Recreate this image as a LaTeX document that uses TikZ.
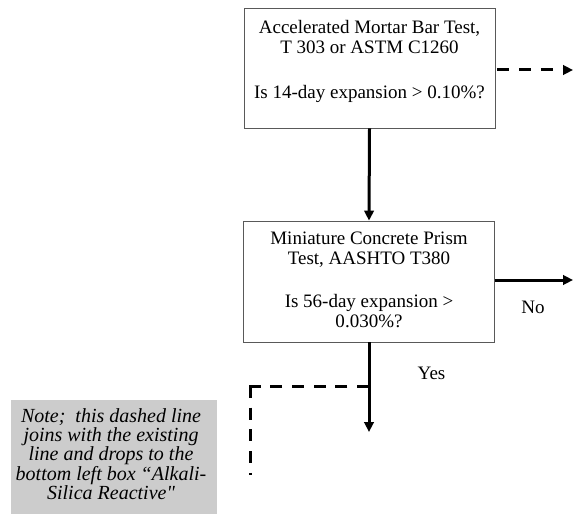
\documentclass[tikz,border=0pt]{standalone}
\usepackage{fontspec}
\setmainfont{Liberation Serif}
\newfontfamily\rawserif[Ligatures=TeXOff]{Liberation Serif}
\usetikzlibrary{arrows.meta}
\begin{document}
\begin{tikzpicture}[x=1bp,y=-1bp,
  box/.style={draw=black!65, line width=0.8bp, minimum width=251bp, minimum height=120bp, inner sep=0pt},
  boxtext/.style={align=center, font=\fontsize{19bp}{19.5bp}\selectfont, inner sep=0pt, anchor=north},
  lbl/.style={font=\fontsize{19bp}{19.5bp}\selectfont, inner sep=0pt, anchor=base},
  conn/.style={line width=3bp, -{Triangle[length=10bp,width=9.5bp]}},
  dashconn/.style={line width=3bp, dash pattern=on 12bp off 9.7bp},
  notebox/.style={fill=black!20, draw=none},
  notetext/.style={align=center, font=\fontsize{20bp}{19.2bp}\selectfont\itshape, inner sep=0pt, anchor=north}]
\useasboundingbox (0,0) rectangle (573,514);
% boxes
\node[box] (b1) at (369.5,68) {};
\node[boxtext] (b1t) at (369.5,20.2) {Accelerated Mortar Bar Test,\\T 303 or ASTM C1260\\[25.5bp]Is 14-day expansion > 0.10\%?};
\node[box, minimum height=121bp] (b2) at (369,281.5) {};
\node[boxtext] (b2t) at (369,231.9) {Miniature Concrete Prism\\Test, AASHTO T380\\[24bp]Is 56-day expansion >\\0.030\%?};
% coordinates
\coordinate (e1) at (573,70);
\coordinate (e2) at (573,280);
\coordinate (y1) at (369,432);
\coordinate (junc) at (369,386);
\coordinate (corner) at (250,386);
\coordinate (dend) at (250,475);
% connectors
\draw[conn] (b1.south) -- (b2.north);
\draw[conn, dash pattern=on 12bp off 9.7bp, dash phase=19.7bp] (b1.east |- e1) -- (e1);
\draw[conn] (b2.east |- e2) -- (e2);
\draw[conn] (b2.south) -- (y1);
\draw[dashconn] (junc) -- ([xshift=-1.5bp]corner);
\draw[dashconn] (corner) -- (dend);
% labels
\node[lbl] (no) at (533,313) {No};
\node[lbl] (yes) at (431.5,379.3) {Yes};
% note
\node[notebox, minimum width=206bp, minimum height=114bp, inner sep=0pt, anchor=north west] (note) at (11,400) {};
\node[notetext] (notet) at (111,408.5) {Note;\ \ this dashed line\\joins with the existing\\line and drops to the\\bottom left box ``Alkali-\\Silica Reactive{\rawserif\itshape"}};
\end{tikzpicture}
\end{document}
